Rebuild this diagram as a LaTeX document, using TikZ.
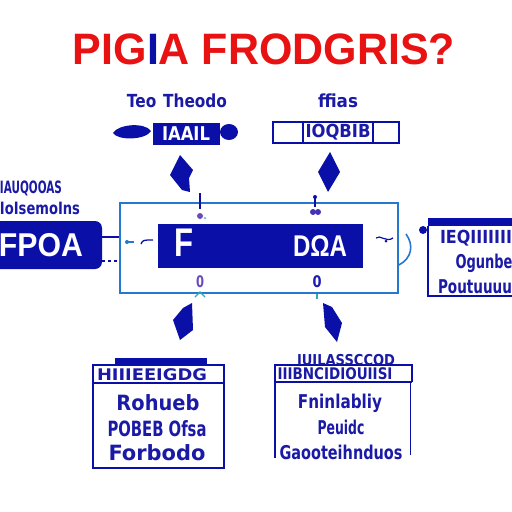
\documentclass[tikz,border=0pt]{standalone}
\usepackage{graphicx}
\usepackage{fontspec}
\setmainfont{DejaVu Sans}
\newfontfamily\titlefont{Liberation Sans}
\definecolor{dblue}{HTML}{0A0FA8}
\definecolor{tblue}{HTML}{1A1AA6}
\definecolor{lblue}{HTML}{2478D0}
\definecolor{tred}{HTML}{E81212}
\definecolor{purp}{HTML}{6A4AC0}
\definecolor{tealc}{HTML}{30A8B8}
\newcommand{\fitw}[2]{\resizebox{#1pt}{\height}{#2}}
\tikzset{
  lbl/.style={text=tblue, inner sep=0pt, font=\bfseries\fontsize{#1}{#1}\selectfont},
  wlbl/.style={text=white, inner sep=0pt, font=\bfseries\fontsize{#1}{#1}\selectfont},
  body/.style={text=tblue, inner sep=0pt, font=\bfseries\fontsize{#1}{#1}\selectfont},
  blob/.style={fill=dblue, draw=none},
  boxline/.style={draw=dblue, line width=1.5pt},
}
\begin{document}
\begin{tikzpicture}[x=1pt,y=-1pt]
\useasboundingbox (0,0) rectangle (512,512);
\fill[white] (0,0) rectangle (512,512);

% title
\node[text=tred, inner sep=0pt, font=\titlefont\bfseries\fontsize{44}{44}\selectfont] (title) at (264,49) {\fitw{382}{PIG\textcolor{dblue}{I}A FRODGRIS?}};

% top labels
\node[lbl=18] (tlab1) at (177,101) {\fitw{100}{Teo\hspace{8pt}Theodo}};
\node[lbl=18] (tlab2) at (338,101) {\fitw{40}{ffias}};

% top-left box
\fill[dblue] (113,133) .. controls (118,124) and (145,122) .. (151,131) .. controls (146,140) and (118,141) .. (113,133) -- cycle;
\fill[dblue] (229,132) ellipse [x radius=9, y radius=8];
\node[fill=dblue, minimum width=67pt, minimum height=22pt, inner sep=0pt] (tl) at (186.5,134) {};
\node[wlbl=19] (tltext) at (186,134) {\fitw{48}{IAAIL}};

% top-right box
\node[boxline, minimum width=126pt, minimum height=21pt, inner sep=0pt] (tr) at (336,132.5) {};
\draw[dblue, line width=1.2pt] (303,123) -- (303,142);
\draw[dblue, line width=1.2pt] (373,123) -- (373,142);
\node[lbl=18] (trtext) at (338,132.5) {\fitw{65}{IOQBIB}};

% arrows top
\fill[blob] (180,155) -- (170,175) -- (182,190) -- (190,192) -- (189,178) -- (193,170) -- cycle;
\fill[blob] (330,152) -- (318,172) -- (328,192) -- (340,172) -- cycle;

% main outer box
\node[draw=lblue, line width=1.8pt, minimum width=278pt, minimum height=90pt, inner sep=0pt] (outer) at (259,248) {};
\node[fill=dblue, minimum width=205pt, minimum height=44pt, inner sep=0pt] (inner) at (260.5,246) {};
\node[text=white, inner sep=0pt, font=\titlefont\bfseries\fontsize{40}{40}\selectfont] (F) at (184,242.5) {\fitw{19}{F}};
\node[text=white, inner sep=0pt, font=\titlefont\bfseries\fontsize{30}{30}\selectfont] (DOA) at (320,246) {\fitw{54}{DΩA}};

% stubs on top of outer
\draw[dblue, line width=1.5pt] (200,193) -- (200,209);
\fill[purp] (200,216) circle (3);
\fill[tealc!60] (205,218) circle (1.5);
\fill[dblue] (315,197) circle (2);
\draw[dblue, line width=1.2pt] (315,197) -- (315,207);
\fill[purp!60!dblue] (313,212) circle (3);
\fill[purp!60!dblue] (318,212) circle (3);

% zeros below inner
\node[text=purp, inner sep=0pt, font=\bfseries\fontsize{16}{16}\selectfont] (z1) at (200,282) {\fitw{8}{0}};
\node[text=dblue!80!purp, inner sep=0pt, font=\bfseries\fontsize{16}{16}\selectfont] (z2) at (317,282) {\fitw{9}{0}};
\draw[tealc, line width=1.2pt] (195,297) -- (200,292) -- (205,297);
\draw[tealc, line width=1.5pt] (317,294) -- (317,299);

% arrows bottom
\fill[blob] (192,303) -- (193,330) -- (180,340) -- (173,320) -- (183,308) -- cycle;
\fill[blob] (323,303) -- (332,307) -- (342,323) -- (337,342) -- (325,327) -- cycle;

% left box
\begin{scope}
\clip (0,0) rectangle (512,512);
\node[fill=dblue, rounded corners=7pt, minimum width=110pt, minimum height=48pt, inner sep=0pt] (lbox) at (47,245) {};
\end{scope}
\node[text=white, inner sep=0pt, font=\titlefont\bfseries\fontsize{33}{33}\selectfont] (lboxtext) at (41,245) {\fitw{84}{FPOA}};
\node[lbl=17] (llab1) at (31,188) {\fitw{62}{IAUQOOAS}};
\node[lbl=17] (llab2) at (40,208) {\fitw{80}{IoIsemoIns}};
\draw[dblue, line width=1.3pt] ([yshift=8pt]lbox.east) -- ([yshift=8pt]lbox.east -| outer.west);
\draw[dblue, line width=1.3pt, dashed] ([yshift=-16pt]lbox.east) -- ([yshift=-16pt]lbox.east -| outer.west);
\fill[lblue] (127,242) circle (2);
\draw[lblue, line width=1.2pt] (127,242) -- (134,242);
\draw[dblue, line width=1.3pt] (141,244) .. controls (143,240) .. (153,240);

% right side
\draw[dblue, line width=1.2pt] (376,238) .. controls (380,234) and (386,243) .. (393,238);
\fill[dblue] (386,241) circle (1.5);
\draw[lblue, line width=1.6pt] ([yshift=-17pt]outer.east) .. controls (412,258) and (414,245) .. (406,234);
\fill[dblue] (423,230) circle (4);
\fill[dblue] (428,218) rectangle (512,226);
\draw[dblue, line width=1.3pt] (428,226) -- (428,296) -- (512,296);
\node[lbl=18] (r1) at (476,238) {\fitw{72}{IEQIIIIIII}};
\node[body=19] (r2) at (484,263) {\fitw{57}{Ogunbe}};
\node[body=19] (r3) at (475,287) {\fitw{74}{Poutuuuu}};

% bottom-left box
\fill[dblue] (115,358) rectangle (207,365);
\draw[boxline] (93,365) rectangle (224,468);
\draw[boxline] (93,383) -- (224,383);
\node[lbl=16] (bl0) at (152,375) {\fitw{110}{HIIIEEIGDG}};
\node[body=21] (bl1) at (158,403) {\fitw{83}{Rohueb}};
\node[body=21] (bl2) at (157,429) {\fitw{99}{POBEB Ofsa}};
\node[body=21] (bl3) at (157,453) {\fitw{97}{Forbodo}};

% bottom-right box
\draw[boxline] (275,458) -- (275,365) -- (412,365) -- (412,382);
\draw[boxline] (275,382) -- (412,382);
\draw[dblue, line width=1pt] (410,382) -- (410,455);
\node[lbl=15] (br0) at (346,360) {\fitw{98}{IUILASSCCOD}};
\node[lbl=16] (br1) at (335,374) {\fitw{115}{IIIBNCIDIOUIISI}};
\node[body=19] (br2) at (340,403) {\fitw{84}{Fninlabliy}};
\node[body=19] (br3) at (341,427) {\fitw{47}{Peuidc}};
\node[body=19] (br4) at (341,452) {\fitw{123}{Gaooteihnduos}};
\end{tikzpicture}
\end{document}
